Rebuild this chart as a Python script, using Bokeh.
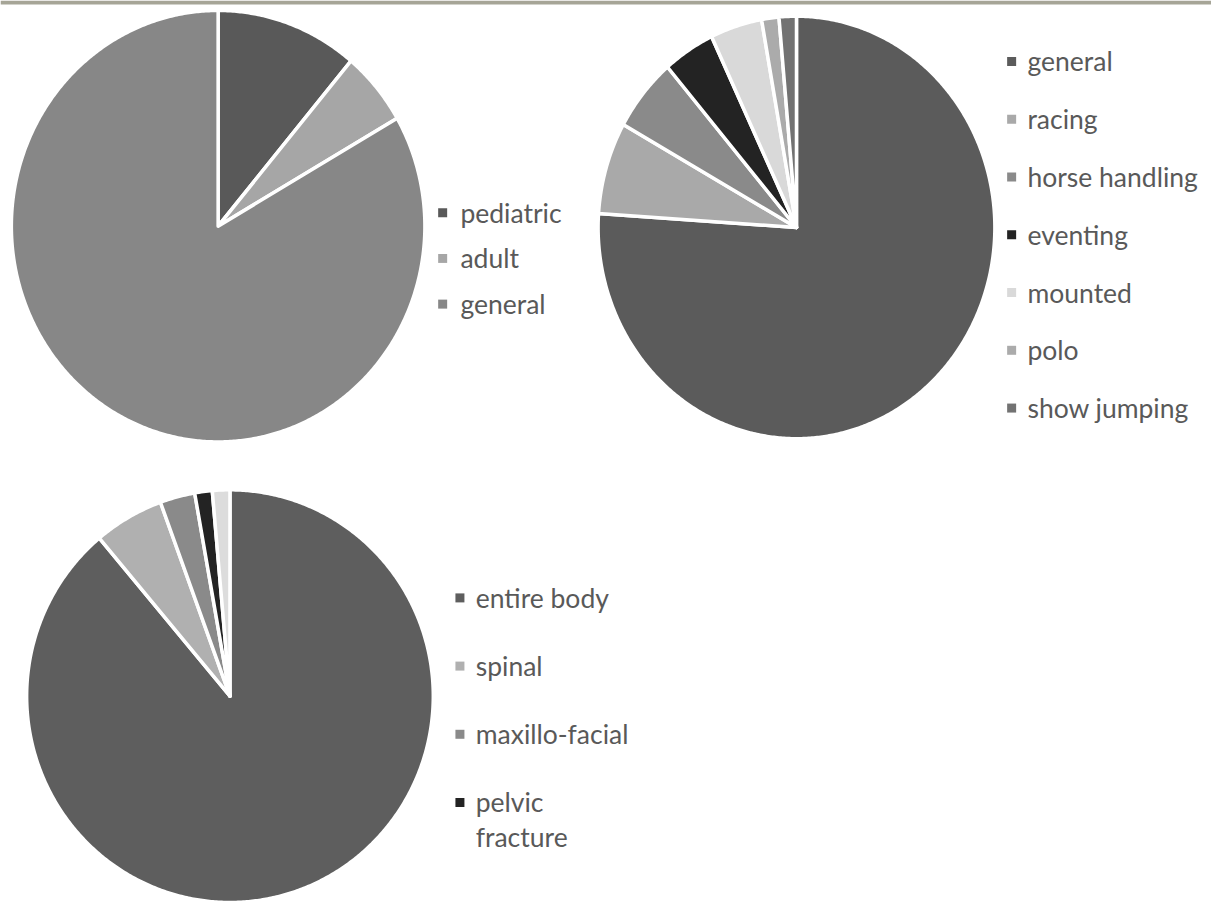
import textwrap
import numpy as np
from bokeh.plotting import figure
from bokeh.models import Range1d, BoxAnnotation, ColumnDataSource
from bokeh.core.properties import value
from bokeh.embed import file_html
from bokeh.resources import INLINE

# ---------------- data ----------------
audience_labels = ["pediatric", "adult", "general"]
audience_counts = [2, 1, 15]
audience_colors = ["#595959", "#a6a6a6", "#878787"]

discipline_labels = ["general", "racing", "horse handling", "eventing",
                     "mounted", "polo", "show jumping"]
discipline_counts = [54, 5, 4, 3, 3, 1, 1]
discipline_colors = ["#5b5b5b", "#a9a9a9", "#8a8a8a", "#232323",
                     "#d9d9d9", "#ababab", "#727272"]

region_labels = ["entire body", "spinal", "maxillo-facial", "pelvic fracture", "other"]
region_counts = [64, 4, 2, 1, 1]
region_colors = ["#5e5e5e", "#b0b0b0", "#8a8a8a", "#232323", "#dcdcdc"]

# ---------------- layout ----------------
W, H = 1211, 902          # figure size in screen px
RW, RH = 1227, 918        # layout coordinate space

pies = [
    dict(labels=audience_labels, counts=audience_counts, colors=audience_colors,
         cx=220.5, cy=229.7, rx=209.5, ry=219.6,
         sq_x=448.0, row0=216.0, row_dy=46.5, tx=466.0, wrap=None),
    dict(labels=discipline_labels, counts=discipline_counts, colors=discipline_colors,
         cx=806.5, cy=231.0, rx=201.0, ry=215.0,
         sq_x=1024.5, row0=62.0, row_dy=58.8, tx=1040.5, wrap=None),
    dict(labels=region_labels, counts=region_counts, colors=region_colors,
         cx=232.5, cy=708.0, rx=206.0, ry=210.0,
         sq_x=465.5, row0=608.0, row_dy=69.4, tx=481.5, wrap=14),
]
LINE_H = 35.0
FONT = value("Lato")
FONT_SIZE = "26.5px"
TEXT_COLOR = "#595959"

p = figure(width=W, height=H, output_backend="svg", toolbar_location=None,
           x_range=Range1d(0, RW), y_range=Range1d(RH, 0),
           x_axis_location=None, y_axis_location=None, min_border=0,
           background_fill_color="white", border_fill_color="white")
p.grid.visible = False
p.outline_line_color = None

# top rule
p.add_layout(BoxAnnotation(top=0, bottom=4, left=0, right=RW,
                           fill_color="#a6a597", fill_alpha=1.0, line_color=None))

for cfg in pies:
    counts = np.array(cfg["counts"], dtype=float)
    frac = counts / counts.sum()
    ends = np.cumsum(frac) * 2 * np.pi
    starts = ends - frac * 2 * np.pi
    xs, ys = [], []
    for a0, a1 in zip(starts, ends):
        n = max(int(np.degrees(a1 - a0) * 2), 2)
        t = np.linspace(a0, a1, n)
        px = np.concatenate([[cfg["cx"]], cfg["cx"] + cfg["rx"] * np.sin(t)])
        py = np.concatenate([[cfg["cy"]], cfg["cy"] - cfg["ry"] * np.cos(t)])
        xs.append(px.tolist())
        ys.append(py.tolist())
    src = ColumnDataSource(dict(xs=xs, ys=ys, color=cfg["colors"], label=cfg["labels"]))
    p.patches("xs", "ys", source=src, fill_color="color", line_color="white",
              line_width=3.5, line_join="round")

    # legend
    y = cfg["row0"]
    for lab, col in zip(cfg["labels"], cfg["colors"]):
        lines = textwrap.wrap(lab, cfg["wrap"]) if cfg["wrap"] else [lab]
        if y > RH - 10:
            break
        p.scatter([cfg["sq_x"]], [y], marker="square", size=9,
                  fill_color=col, line_color=None)
        for k, ln in enumerate(lines):
            p.text([cfg["tx"]], [y + k * LINE_H], text=[ln], text_font=FONT,
                   text_font_size=FONT_SIZE, text_color=TEXT_COLOR,
                   text_baseline="middle", text_align="left")
        y += cfg["row_dy"] + (len(lines) - 1) * LINE_H

open("out.html", "w").write(file_html(p, INLINE))
